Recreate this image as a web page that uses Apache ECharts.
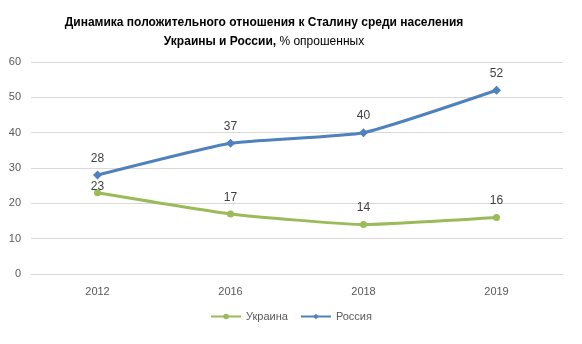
<!DOCTYPE html>
<html><head><meta charset="utf-8">
<script src="https://cdn.jsdelivr.net/npm/echarts@6/dist/echarts.min.js"></script>
<style>html,body{margin:0;padding:0;background:#fff}#c{width:582px;height:344px}</style>
</head><body><div id="c"></div>
<script>
const categories = ['2012', '2016', '2018', '2019'];
const ukraine = [23, 17, 14, 16];
const russia = [28, 37, 40, 52];
const yTicks = [0, 10, 20, 30, 40, 50, 60];

const chart = echarts.init(document.getElementById('c'));
const font = '"Liberation Sans", Arial, sans-serif';
chart.setOption({
  animation: false,
  textStyle: { fontFamily: font },
  title: {
    left: 259, top: 8, textAlign: 'center',
    text: '{b|Динамика положительного отношения к Сталину среди населения}\n{b|Украины и России,}{n| % опрошенных}',
    textStyle: {
      rich: {
        b: { fontFamily: font, fontSize: 12, fontWeight: 'bold', color: '#000', lineHeight: 19 },
        n: { fontFamily: font, fontSize: 12, fontWeight: 'normal', color: '#000', lineHeight: 19 }
      }
    }
  },
  grid: { left: 31, right: 19, top: 62, bottom: 70, containLabel: false },
  xAxis: {
    type: 'category', data: categories, boundaryGap: true,
    axisLine: { lineStyle: { color: '#d9d9d9' } },
    axisTick: { show: false },
    axisLabel: { color: '#595959', fontSize: 11, margin: 12, fontFamily: font }
  },
  yAxis: {
    type: 'value', min: yTicks[0], max: yTicks[yTicks.length - 1], interval: 10,
    axisLine: { show: false }, axisTick: { show: false },
    axisLabel: { color: '#595959', fontSize: 11, margin: 10, fontFamily: font },
    splitLine: { lineStyle: { color: '#d9d9d9' } }
  },
  legend: {
    bottom: 17, left: 'center', itemWidth: 30, itemHeight: 7, itemGap: 12,
    textStyle: { color: '#595959', fontSize: 11, fontFamily: font },
    data: ['Украина', 'Россия']
  },
  series: [
    {
      name: 'Украина', type: 'line',
      data: ukraine.map((v, i) => i === 0 ? { value: v, label: { distance: -3 } } : v),
      smooth: 0.15,
      symbol: 'circle', symbolSize: 7,
      lineStyle: { color: '#9BBB59', width: 3 }, itemStyle: { color: '#9BBB59' },
      label: { show: true, position: 'top', distance: 7, color: '#404040', fontSize: 12, fontFamily: font }
    },
    {
      name: 'Россия', type: 'line', data: russia, smooth: 0.15,
      symbol: 'diamond', symbolSize: 9,
      lineStyle: { color: '#4F81BD', width: 3 }, itemStyle: { color: '#4F81BD' },
      label: { show: true, position: 'top', distance: 6, color: '#404040', fontSize: 12, fontFamily: font }
    }
  ]
});
</script></body></html>
